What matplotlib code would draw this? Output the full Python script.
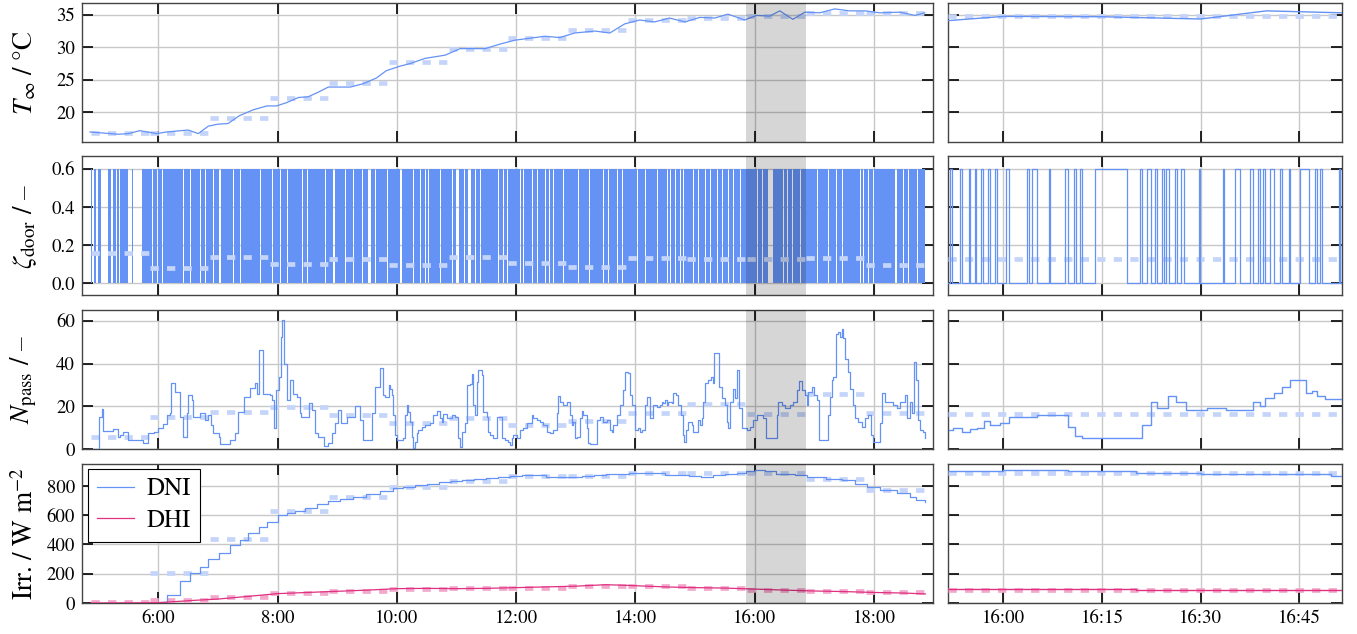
import matplotlib
matplotlib.use("Agg")
import matplotlib.pyplot as plt
from matplotlib.ticker import FixedLocator, FuncFormatter

plt.rcParams['font.family'] = 'STIXGeneral'
plt.rcParams['mathtext.fontset'] = 'stix'

# ---------------- data (time in decimal hours) ----------------
# hourly block means, blocks start at 4:52
block_start = 4 + 52 / 60
t_block = [16.9, 16.9, 19.1, 22.2, 24.5, 27.7, 29.8, 31.5, 32.6, 34.2, 34.5, 34.8, 35.3, 35.3]
door_block = [0.161, 0.080, 0.140, 0.104, 0.130, 0.099, 0.140, 0.106, 0.088, 0.132, 0.127, 0.130, 0.132, 0.096]
npass_block = [5.9, 15.2, 17.5, 19.9, 16.0, 12.1, 14.7, 11.3, 13.3, 16.8, 21.0, 16.3, 25.8, 17.1]
dni_block = [0, 206, 437, 630, 723, 796, 835, 869, 869, 890, 888, 887, 848, 772]
dhi_block = [5, 18, 41, 68, 82, 98, 100, 105, 115, 113, 103, 90, 80, 73]

# ambient temperature
t_time = [4.855, 5.33, 5.50, 5.69, 5.97, 6.14, 6.50, 6.67, 6.84, 7.00, 7.17, 7.36, 7.59, 7.82,
          7.98, 8.15, 8.35, 8.51, 8.68, 8.85, 9.22, 9.43, 9.66, 9.82, 10.05, 10.22, 10.47, 10.81,
          11.06, 11.48, 11.73, 11.98, 12.23, 12.48, 12.73, 12.98, 13.32, 13.57, 13.82, 14.07,
          14.32, 14.57, 14.83, 15.08, 15.33, 15.55, 15.83, 16.03, 16.25, 16.42, 16.64, 16.84,
          17.09, 17.34, 17.59, 17.85, 18.10, 18.43, 18.69, 18.85]
t_val = [17.0, 16.65, 16.75, 17.2, 16.75, 17.0, 17.3, 16.75, 17.9, 18.2, 18.3, 19.5, 20.4, 21.0,
         21.0, 21.5, 22.3, 22.4, 23.1, 23.9, 23.9, 24.4, 25.3, 26.4, 27.1, 27.5, 28.3, 28.8,
         29.8, 29.8, 30.5, 31.1, 31.4, 31.7, 31.5, 32.2, 32.5, 32.2, 33.6, 34.2,
         33.9, 34.5, 33.9, 34.6, 34.5, 35.1, 34.2, 34.9, 34.8, 35.6, 34.3, 35.4,
         35.3, 35.9, 35.6, 35.6, 35.3, 35.4, 34.9, 35.3]

# door opening: short gaps (no switching) in the day-long record
door_start, door_end = 4.87, 18.85
door_gaps = [(4.888, 4.921), (4.960, 4.988), (5.039, 5.162), (5.212, 5.240), (5.285, 5.307),
             (5.335, 5.363), (5.491, 5.553), (5.581, 5.726), (5.888, 5.911), (5.972, 5.994),
             (6.056, 6.078), (6.419, 6.436), (6.531, 6.548), (6.699, 6.715), (6.783, 6.805),
             (6.922, 6.939), (7.023, 7.045), (7.258, 7.274), (7.369, 7.386), (7.705, 7.722),
             (7.900, 7.928), (8.040, 8.057), (8.152, 8.169), (8.404, 8.420), (8.487, 8.504),
             (8.795, 8.812), (8.935, 8.963), (9.130, 9.147), (9.270, 9.287), (9.410, 9.426),
             (9.522, 9.561), (9.633, 9.650), (9.829, 9.857), (10.053, 10.081), (10.276, 10.293),
             (10.388, 10.405), (10.472, 10.489), (10.528, 10.545), (10.723, 10.740), (10.919, 10.936),
             (10.992, 11.037), (11.126, 11.143), (11.199, 11.238), (11.310, 11.327), (11.394, 11.411),
             (11.702, 11.718), (11.786, 11.802), (11.841, 11.858), (12.065, 12.082), (12.121, 12.138),
             (12.261, 12.277), (12.345, 12.361), (12.484, 12.501), (12.557, 12.574), (12.624, 12.641),
             (12.792, 12.808), (13.043, 13.060), (13.228, 13.244), (13.463, 13.479), (13.546, 13.563),
             (13.686, 13.703), (13.770, 13.787), (14.021, 14.038), (14.161, 14.178), (14.357, 14.374),
             (14.524, 14.541), (14.580, 14.596), (14.664, 14.680), (14.747, 14.764), (14.803, 14.820),
             (14.971, 14.988), (15.055, 15.072), (15.167, 15.183), (15.250, 15.267), (15.362, 15.379),
             (15.446, 15.463), (15.558, 15.575), (15.642, 15.659), (15.754, 15.770), (16.033, 16.050),
             (16.117, 16.134), (16.229, 16.313), (16.480, 16.497), (16.536, 16.553), (16.620, 16.637),
             (16.760, 16.776), (17.039, 17.056), (17.235, 17.252), (17.363, 17.380), (17.458, 17.475),
             (17.766, 17.783), (17.822, 17.839), (17.906, 17.922), (17.990, 18.006), (18.353, 18.381),
             (18.493, 18.509), (18.577, 18.593), (18.716, 18.733)]
door_open = 0.6

# passengers
n_time = [4.854, 5.005, 5.05, 5.067, 5.245, 5.33, 5.36, 5.41, 5.50, 5.75, 5.83, 5.92, 6.0, 6.08,
          6.14, 6.20, 6.22, 6.28, 6.36, 6.42, 6.48, 6.50, 6.56, 6.59, 6.70, 6.78, 6.84, 6.89,
          6.92, 7.01, 7.03, 7.20, 7.29, 7.34, 7.43, 7.54, 7.62, 7.65, 7.69, 7.76, 7.87, 7.90,
          7.94, 7.98, 8.03, 8.06, 8.08, 8.11, 8.15, 8.21, 8.26, 8.32, 8.38, 8.40, 8.52, 8.57,
          8.63, 8.68, 8.77, 8.85, 8.91, 8.96, 9.02, 9.07, 9.16, 9.30, 9.38, 9.44, 9.59, 9.63,
          9.72, 9.76, 9.80, 9.86,
          9.885, 9.913, 9.941, 9.969, 9.997, 10.097, 10.137, 10.165, 10.192, 10.220, 10.248,
          10.276, 10.304, 10.332, 10.360, 10.416, 10.472, 10.556, 10.612, 10.668, 10.723, 10.751,
          10.779, 10.835, 10.919, 10.975, 11.031, 11.059, 11.087, 11.143, 11.171, 11.227, 11.254,
          11.282, 11.310, 11.338, 11.366, 11.422, 11.450, 11.506, 11.534, 11.562, 11.618, 11.674,
          11.758, 11.813, 11.869, 11.897, 11.925, 11.953, 12.009, 12.065, 12.121, 12.177, 12.261,
          12.289, 12.345, 12.400, 12.456, 12.512, 12.568, 12.624, 12.680, 12.708, 12.736, 12.792,
          12.848, 12.904, 12.932, 12.959, 12.987, 13.015, 13.071, 13.099, 13.127, 13.183, 13.211,
          13.239, 13.351, 13.407, 13.463, 13.518, 13.574, 13.602, 13.630, 13.686, 13.742, 13.798,
          13.832, 13.882, 13.910, 13.938, 13.993, 14.049, 14.077, 14.105, 14.161, 14.200, 14.245,
          14.301, 14.357,
          14.412, 14.440, 14.468, 14.496, 14.524, 14.552, 14.608, 14.636, 14.680, 14.719, 14.759,
          14.792, 14.814, 14.848, 14.887, 14.943, 14.971, 15.055, 15.083, 15.111, 15.139, 15.167,
          15.223, 15.262, 15.295, 15.323, 15.407, 15.446, 15.502, 15.530, 15.558, 15.586, 15.631,
          15.670, 15.709, 15.737, 15.782, 15.865, 15.921, 15.977, 16.033, 16.145, 16.190, 16.368,
          16.396, 16.452, 16.508, 16.592, 16.648, 16.704, 16.749, 16.788, 16.844, 16.872, 16.900,
          16.955, 16.995, 17.039, 17.084, 17.235, 17.263, 17.291, 17.319, 17.363, 17.403, 17.430,
          17.458, 17.486, 17.514, 17.570, 17.598, 17.643, 17.682, 17.738, 17.794, 17.850, 17.906,
          17.945, 17.990, 18.101, 18.129, 18.185, 18.325, 18.381, 18.437, 18.521, 18.549, 18.604,
          18.632, 18.671, 18.705, 18.733, 18.772, 18.828, 18.856]
n_val = [0, 15.2, 19.0, 8.5, 9.3, 5.9, 6.5, 8.2, 4.4, 3.1, 7.5, 8.2, 9.8, 11.8,
         16.0, 16.8, 31.0, 27.0, 15.2, 5.9, 16.8, 25.3, 23.0, 15.2, 16.8, 13.7, 16.0, 11.4,
         7.5, 5.9, 2.5, 4.4, 7.5, 17.6, 24.6, 28.5, 30.8, 26.0, 46.3, 26.0, 25.3, 23.0,
         9.8, 27.7, 33.9, 52.6, 60.3, 40.0, 23.0, 32.3, 26.0, 24.6, 16.8, 15.2, 21.5, 18.4,
         7.5, 5.9, 1.6, 2.8, 7.5, 12.1, 18.4, 12.1, 15.2, 20.2, 13.7, 4.4, 16.8, 29.2,
         37.8, 25.3, 24.6, 30.0,
         28.4, 25.3, 16.0, 6.7, 4.3, 5.1, 16.0, 20.7, 17.6, 12.9, 5.9,
         0.5, 3.6, 7.5, 9.0, 10.6, 11.4, 12.1, 16.0, 17.9, 14.5, 12.9,
         16.3, 14.5, 16.0, 15.2, 5.1, 1.2, 8.2, 12.1, 30.0, 30.3, 35.1,
         20.7, 16.0, 31.6, 37.0, 34.6, 17.6, 15.2, 8.2, 6.7, 5.1, 15.2,
         5.1, 4.3, 3.6, 2.0, 5.1, 6.7, 5.1, 9.0, 9.8, 12.1, 16.0,
         14.5, 13.7, 12.9, 11.4, 8.2, 7.5, 9.0, 16.8, 25.0, 22.2, 20.7,
         22.2, 16.0, 11.4, 12.9, 5.1, 5.9, 14.5, 17.9, 16.0, 9.8, 2.8,
         2.3, 13.7, 15.2, 12.9, 13.7, 9.0, 8.2, 11.4, 16.0, 20.7, 27.7,
         36.2, 35.5, 25.3, 20.7, 9.0, 9.8, 8.2, 9.0, 20.7, 24.6, 14.5,
         20.7, 19.9,
         20.7, 22.2, 21.5, 23.0, 20.7, 22.2, 21.5, 26.1, 25.3, 20.7, 16.0,
         6.7, 3.6, 9.0, 12.9, 11.4, 8.2, 13.7, 11.4, 14.5, 22.2, 30.8,
         32.3, 33.9, 30.8, 44.8, 29.2, 23.8, 20.7, 12.9, 9.8, 22.2, 28.4,
         23.8, 37.0, 19.1, 9.8, 9.0, 10.6, 13.7, 16.0, 14.5, 5.1, 16.0,
         22.2, 20.7, 19.1, 20.7, 22.2, 27.7, 31.8, 27.7, 25.3, 20.7, 26.9,
         29.2, 25.3, 23.0, 4.3, 16.0, 24.6, 32.3, 33.9, 54.1, 54.9, 52.6,
         56.4, 51.8, 42.4, 36.2, 28.4, 20.7, 14.5, 12.9, 10.6, 14.5, 16.0,
         6.7, 3.3, 12.1, 26.1, 22.2, 20.7, 19.1, 22.2, 25.3, 14.5, 22.2,
         16.8, 40.9, 32.3, 13.7, 9.0, 8.2, 5.1]

# irradiance
dni_time = [4.87, 6.0, 6.14, 6.36, 6.53, 6.70, 6.84, 7.01, 7.20, 7.37, 7.51, 7.68, 7.82, 8.0,
            8.15, 8.29, 8.46, 8.66, 8.85, 9.05, 9.27, 9.49, 9.72, 9.94, 10.1, 10.3, 10.5, 10.7,
            10.9, 11.1, 11.3, 11.5, 11.7, 11.9, 12.1, 12.3, 12.5, 12.7, 12.9, 13.1, 13.3, 13.5,
            13.7, 13.9, 14.1, 14.3, 14.5, 14.7, 14.9, 15.1, 15.3, 15.5, 15.7, 15.86, 16.0, 16.18,
            16.35, 16.67, 16.88, 17.19, 17.47, 17.68, 17.89, 18.1, 18.39, 18.6, 18.7, 18.86]
dni_val = [0, 10, 57, 149, 206, 247, 300, 343, 396, 430, 476, 521, 556, 601,
           613, 629, 647, 675, 697, 711, 727, 743, 766, 784, 795, 805, 815, 825,
           835, 842, 850, 856, 862, 868, 874, 872, 862, 858, 864, 870, 876, 880,
           884, 888, 890, 886, 878, 874, 868, 864, 872, 880, 887, 899, 910, 899,
           883, 876, 858, 850, 842, 812, 796, 773, 750, 727, 704, 688]
dhi_time = [4.87, 6.0, 6.3, 6.6, 7.0, 7.5, 8.0, 8.5, 9.0, 9.5, 10.0, 10.5, 11.0, 11.5, 12.0,
            12.5, 13.0, 13.5, 13.75, 14.0, 14.5, 15.0, 15.5, 16.0, 16.5, 17.0, 17.5, 18.0, 18.5, 18.86]
dhi_val = [0, 2, 10, 18, 27, 45, 64, 72, 80, 88, 98, 100, 98, 100, 105,
           110, 115, 125, 122, 118, 110, 105, 102, 95, 88, 82, 78, 72, 68, 62]

# zoomed hour 15:52 - 16:52 (time in minutes after 16:00)
zoom_lim = (15 + 51.6 / 60, 16 + 51.5 / 60)
tz_min = [-8.4, 0, 15, 30, 40, 51.5]
tz_val = [34.1, 34.75, 34.7, 34.35, 35.6, 35.3]
door_switch_min = [-8.16, -7.80, -6.53, -6.28, -5.27, -5.01, -4.36, -4.10, -3.34, -3.09, -2.38,
                   -2.08, -1.21, -0.96, 0.41, 0.81, 3.60, 3.85, 4.36, 5.12, 6.89, 7.14, 9.42,
                   9.78, 10.69, 11.04, 11.60, 11.96, 13.98, 18.79, 20.72, 21.07, 21.83, 22.44,
                   23.10, 23.35, 24.11, 24.47, 24.77, 25.13, 26.14, 26.39, 27.00, 27.41, 29.69,
                   29.94, 33.38, 33.59, 35.26, 36.02, 37.54, 37.89, 38.65, 38.96, 39.46, 39.82,
                   40.58, 41.08, 42.10, 42.35, 43.36, 43.62, 45.14, 46.40, 47.41, 47.67, 48.18,
                   48.43, 50.96, 51.21]
nz_min = [-8.31, -7.65, -6.28, -5.02, -4.0, -2.99, -2.08, -0.46, 0.81, 5.12, 9.78, 10.94, 11.96,
          21.07, 22.44, 23.35, 24.97, 26.29, 27.81, 30.95, 33.89, 37.94, 38.96, 39.82, 41.08,
          42.35, 43.62, 46.05, 46.91, 47.67, 48.94, 51.47]
nz_val = [9.0, 10.1, 8.2, 9.3, 10.1, 13.4, 11.2, 12.1, 15.2, 16.0, 10.2, 6.2, 5.4,
          11.3, 22.2, 19.1, 25.0, 22.2, 18.3, 19.1, 18.3, 22.2, 20.2, 24.1, 26.1,
          29.2, 32.3, 26.1, 27.4, 25.0, 23.3, 23.3]
dniz_min = [-8.4, 0, 9.9, 20.1, 30.0, 39.9, 49.8, 51.5]
dniz_val = [899, 910, 903, 887, 883, 880, 868, 868]
dhiz_min = [-8.4, 0, 20.1, 49.8, 51.5]
dhiz_val = [99, 97, 92, 88, 88]
dhiz_block = 87

BLUE = '#6592f5'
BLUE_L = '#c5d5fa'
PINK = '#e0307f'
PINK_L = '#f2a9cc'
DASH = (0, (1.75, 1.75))


def hm(h, pos=None):
    hh = int(h + 1e-6)
    mm = int(round((h - hh) * 60))
    return f"{hh}:{mm:02d}"


def to_h(mins):
    return [16 + m / 60 for m in mins]


fig = plt.figure(figsize=(13.57, 6.34), dpi=100)
gs = fig.add_gridspec(4, 2, width_ratios=[851, 394], left=0.0604, right=0.989,
                      top=0.9957, bottom=0.0489, hspace=0.106, wspace=0.024)
axes = [[fig.add_subplot(gs[r, c]) for c in range(2)] for r in range(4)]

ylims = [(15.5, 36.85), (-0.063, 0.664), (0, 65), (0, 950)]
yticks = [[20, 25, 30, 35], [0, 0.2, 0.4, 0.6], [0, 20, 40, 60], [0, 200, 400, 600, 800]]
ylabels = [r'$T_\infty$ / °C', r'$\zeta_\mathrm{door}$ / –', r'$N_\mathrm{pass}$ / –',
           r'Irr. / W m$^{-2}$']

for r in range(4):
    for c in range(2):
        ax = axes[r][c]
        ax.set_ylim(*ylims[r])
        ax.yaxis.set_major_locator(FixedLocator(yticks[r]))
        if c == 0:
            ax.set_xlim(4.72, 18.99)
            ax.xaxis.set_major_locator(FixedLocator([6, 8, 10, 12, 14, 16, 18]))
            ax.axvspan(*zoom_lim, color='k', alpha=0.16, lw=0, zorder=10)
        else:
            ax.set_xlim(*zoom_lim)
            ax.xaxis.set_major_locator(FixedLocator([16, 16.25, 16.5, 16.75]))
            ax.tick_params(labelleft=False)
        ax.xaxis.set_major_formatter(FuncFormatter(hm))
        ax.grid(True, color='#c8c8c8', lw=1.0, zorder=0)
        ax.set_axisbelow(True)
        ax.tick_params(direction='in', length=8, width=1.2, color='k', top=True, right=True,
                       labelsize=13.5, pad=5)
        if r < 3:
            ax.tick_params(labelbottom=False)
        for s in ax.spines.values():
            s.set_color('#444444')
            s.set_linewidth(1.0)
    axes[r][0].set_ylabel(ylabels[r], fontsize=19.5)
    axes[r][0].yaxis.set_label_coords(-0.051, 0.5)

left_edges = [block_start + k for k in range(len(t_block))]
right_edges = [e + 1 for e in left_edges]


def blocks(ax, vals, color):
    ax.hlines(vals, left_edges, right_edges, colors=color, lw=3.4, linestyles=[DASH], zorder=4)


def zblock(ax, val, color):
    ax.hlines(val, *zoom_lim, colors=color, lw=3.4, linestyles=[DASH], zorder=4)


# row 1: temperature
a, b = axes[0]
blocks(a, t_block, BLUE_L)
a.plot(t_time, t_val, color=BLUE, lw=0.9, zorder=5)
zblock(b, t_block[11], BLUE_L)
b.plot(to_h(tz_min), tz_val, color=BLUE, lw=1.0, zorder=5)

# row 2: door
a, b = axes[1]
busy = []
s = door_start
for g0, g1 in door_gaps:
    busy.append((s, g0 - s))
    s = g1
busy.append((s, door_end - s))
a.broken_barh(busy, (0, door_open), facecolors=BLUE, lw=0, zorder=3)
blocks(a, door_block, BLUE_L)
dz_x = [zoom_lim[0]] + to_h(door_switch_min) + [zoom_lim[1]]
dz_y = [0 if i % 2 == 0 else door_open for i in range(len(dz_x))]
b.plot(dz_x, dz_y, drawstyle='steps-post', color=BLUE, lw=0.9, zorder=5)
zblock(b, door_block[11], BLUE_L)

# row 3: passengers
a, b = axes[2]
blocks(a, npass_block, BLUE_L)
a.plot(n_time, n_val, drawstyle='steps-post', color=BLUE, lw=0.9, zorder=5)
zblock(b, npass_block[11], BLUE_L)
b.plot(to_h(nz_min), nz_val, drawstyle='steps-post', color=BLUE, lw=1.0, zorder=5)

# row 4: irradiance
a, b = axes[3]
blocks(a, dni_block, BLUE_L)
blocks(a, dhi_block, PINK_L)
a.plot(dni_time, dni_val, drawstyle='steps-post', color=BLUE, lw=0.9, zorder=5, label='DNI')
a.plot(dhi_time, dhi_val, color=PINK, lw=0.9, zorder=5, label='DHI')
zblock(b, dni_block[11], BLUE_L)
zblock(b, dhiz_block, PINK_L)
b.plot(to_h(dniz_min), dniz_val, drawstyle='steps-post', color=BLUE, lw=1.0, zorder=5)
b.plot(to_h(dhiz_min), dhiz_val, drawstyle='steps-post', color=PINK, lw=1.0, zorder=5)
leg = a.legend(loc='upper left', bbox_to_anchor=(0.007, 0.966), borderaxespad=0, fontsize=18,
               fancybox=False, framealpha=1, edgecolor='k', handlelength=1.5,
               labelspacing=0.3, handletextpad=0.5, borderpad=0.35)
leg.get_frame().set_linewidth(0.8)
leg.set_zorder(20)

fig.savefig('out.png', dpi=100)
